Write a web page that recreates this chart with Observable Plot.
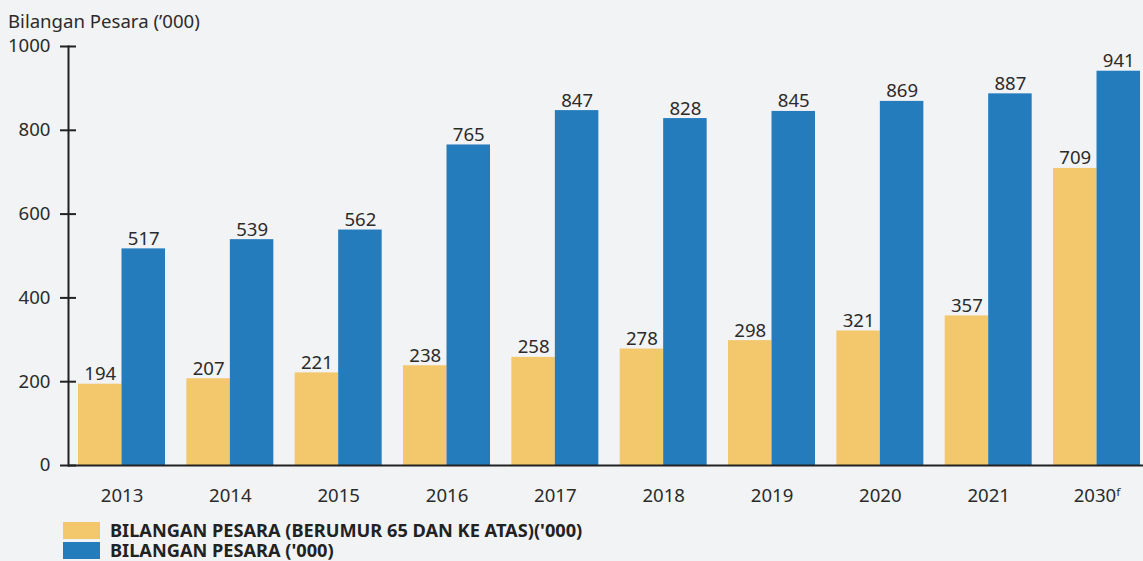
<!DOCTYPE html>
<html>
<head>
<meta charset="utf-8">
<script src="https://cdn.jsdelivr.net/npm/d3@7"></script>
<script src="https://cdn.jsdelivr.net/npm/@observablehq/plot@0.6"></script>
<style>
  html, body { margin: 0; padding: 0; background: #f2f3f5; }
  body { width: 1143px; height: 561px; overflow: hidden; font-family: "Noto Sans", sans-serif; color: #2b2b2b; }
  #title { height: 26px; box-sizing: border-box; padding: 9px 0 0 8px; font-size: 18.6px; line-height: 24px; position: relative; z-index: 1; }
  #chart svg { display: block; }
  #legend { margin-left: 63px; margin-top: 10px; }
  .item { display: flex; align-items: center; height: 20px; }
  .sw { width: 37px; height: 17px; margin-right: 10px; }
  .lb { font-weight: bold; font-size: 18.2px; line-height: 20px; color: #222; }
</style>
</head>
<body>
<div id="title">Bilangan Pesara (’000)</div>
<div id="chart"></div>
<div id="legend"></div>
<script>
const years = ["2013", "2014", "2015", "2016", "2017", "2018", "2019", "2020", "2021", "2030"];
const yearLabels = ["2013", "2014", "2015", "2016", "2017", "2018", "2019", "2020", "2021", "2030ᶠ"];
const seriesNames = ["BILANGAN PESARA (BERUMUR 65 DAN KE ATAS)('000)", "BILANGAN PESARA ('000)"];
const aged65 = [194, 207, 221, 238, 258, 278, 298, 321, 357, 709];
const retirees = [517, 539, 562, 765, 847, 828, 845, 869, 887, 941];
const yTicks = [0, 200, 400, 600, 800, 1000];
const colors = ["#f3c76b", "#247cbd"];

const rowsA = years.map((y, i) => ({year: y, value: aged65[i]}));
const rowsB = years.map((y, i) => ({year: y, value: retirees[i]}));
const labelOf = new Map(years.map((y, i) => [y, yearLabels[i]]));

const W = 1143, H = 484;
const FS = 18.6;
const xOpts = {type: "band", domain: years, paddingInner: 0.197, paddingOuter: 0.06, align: 0.77, round: false};
const base = {width: W, height: H, marginLeft: 68, marginRight: 0, marginTop: 20, marginBottom: 45,
  x: xOpts, y: {domain: [0, 1000]}};

// read bandwidth from Plot's own scale
const probe = Plot.plot({...base, marks: [Plot.barY(rowsA, {x: "year", y: "value"})]});
const bw = probe.scale("x").bandwidth;
const half = bw / 2;

const plot = Plot.plot({
  ...base,
  style: {background: "transparent", fontFamily: "Noto Sans, sans-serif", fontSize: FS + "px", color: "#2b2b2b"},
  marks: [
    Plot.barY(rowsA, {x: "year", y: "value", fill: colors[0], insetRight: half, insetLeft: 0}),
    Plot.barY(rowsB, {x: "year", y: "value", fill: colors[1], insetLeft: half, insetRight: 0}),
    Plot.text(rowsA, {x: "year", y: "value", text: d => String(d.value), dx: -bw / 4, lineAnchor: "bottom", dy: -4, fill: "#2b2b2b", fontSize: FS}),
    Plot.text(rowsB, {x: "year", y: "value", text: d => String(d.value), dx: bw / 4, lineAnchor: "bottom", dy: -4, fill: "#2b2b2b", fontSize: FS}),
    Plot.ruleY([0], {stroke: "#222", strokeWidth: 2}),
    Plot.frame({anchor: "left", stroke: "#222", strokeWidth: 2}),
    Plot.axisY({ticks: yTicks, tickSize: 16, dx: 8, tickPadding: 10, stroke: "#222", strokeWidth: 2, label: null, tickFormat: d => String(d), fontSize: FS, fill: "#2b2b2b"}),
    Plot.axisX({tickSize: 0, tickPadding: 23, label: null, tickFormat: d => labelOf.get(d), fontSize: FS, fill: "#2b2b2b"})
  ]
});
document.getElementById("chart").appendChild(plot);

const legend = document.getElementById("legend");
seriesNames.forEach((name, i) => {
  const item = document.createElement("div");
  item.className = "item";
  item.innerHTML = `<div class="sw" style="background:${colors[i]}"></div><div class="lb"></div>`;
  item.querySelector(".lb").textContent = name;
  legend.appendChild(item);
});
</script>
</body>
</html>
